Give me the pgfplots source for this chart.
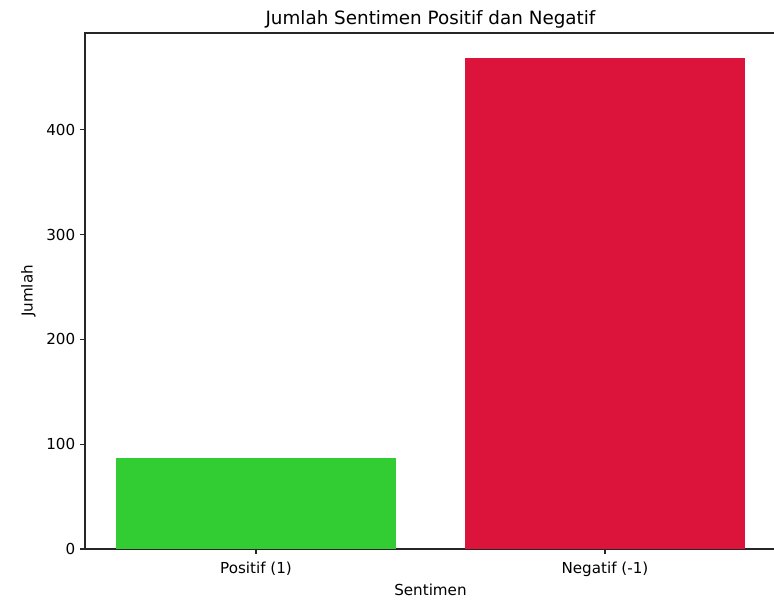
\documentclass[border=0pt]{standalone}
\usepackage{fontspec}
\setmainfont{DejaVu Sans}
\usepackage{pgfplots}
\pgfplotsset{compat=1.18}
\definecolor{limegr}{RGB}{50,205,50}
\definecolor{crim}{RGB}{220,20,60}
\begin{document}
\begin{tikzpicture}
\useasboundingbox (-61.2pt,-38.9pt) rectangle (496.1pt,395.3pt);
\begin{axis}[
  at={(0,0)}, anchor=south west,
  scale only axis,
  width=497.5pt, height=371.5pt,
  xmin=-0.49, xmax=1.49,
  ymin=0, ymax=492.45,
  xtick={0,1},
  xticklabels={Positif (1),Negatif (-1)},
  ytick={0,100,200,300,400},
  tick align=outside,
  major tick length=3.5pt,
  tick style={black!85, line width=0.8pt},
  axis line style={black!85, line width=0.8pt},
  xtick pos=bottom, ytick pos=left,
  /pgf/number format/assume math mode=true,
  ticklabel style={font=\fontsize{10.9}{13}\selectfont},
  xticklabel style={yshift=-2pt},
  every axis title shift=0pt,
  title={Jumlah Sentimen Positif dan Negatif},
  title style={font=\fontsize{13.2}{15}\selectfont, at={(axis description cs:0.5,1.027)}, anchor=center},
  xlabel={Sentimen},
  xlabel style={font=\fontsize{10.9}{13}\selectfont, at={(axis description cs:0.5,0)}, anchor=center, yshift=-29.5pt},
  ylabel={Jumlah},
  ylabel style={font=\fontsize{10.9}{13}\selectfont, at={(axis description cs:-0.082,0.5)}, anchor=center, rotate=0},
  ybar, bar width=0.8, bar shift=0pt,
]
\addplot[fill=limegr, draw=none] coordinates {(0,87)};
\addplot[fill=crim, draw=none] coordinates {(1,469)};
\end{axis}
\end{tikzpicture}
\end{document}
